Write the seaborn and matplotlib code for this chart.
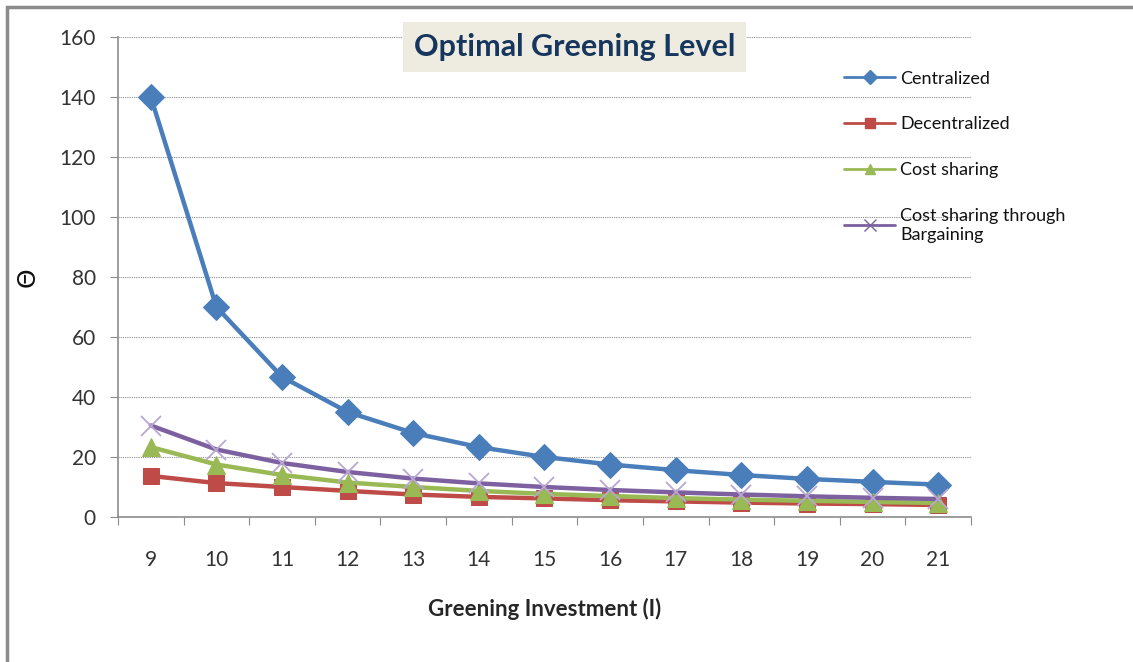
import numpy as np
import pandas as pd
import matplotlib
matplotlib.use("Agg")
import matplotlib.pyplot as plt
from matplotlib.lines import Line2D
from matplotlib.patches import Rectangle
import seaborn as sns

# Data
investment = [9, 10, 11, 12, 13, 14, 15, 16, 17, 18, 19, 20, 21]
centralized = [140, 70, 46.7, 35, 28, 23.3, 20, 17.5, 15.6, 14, 12.7, 11.7, 10.8]
decentralized = [13.7, 11.3, 10, 8.7, 7.5, 6.7, 6.2, 5.6, 5.2, 4.8, 4.5, 4.3, 4.0]
cost_sharing = [23.3, 17.5, 14, 11.5, 10, 8.7, 7.7, 7, 6.3, 5.8, 5.4, 5, 4.7]
bargaining = [30.5, 22.5, 18, 15, 12.8, 11.2, 10, 9, 8.2, 7.5, 6.9, 6.4, 6.0]

series_names = ["Centralized", "Decentralized", "Cost sharing",
                "Cost sharing through\nBargaining"]
colors = ["#4a7ebb", "#be4b48", "#98b954", "#7d60a0"]
markers = ["D", "s", "^", "x"]

sns.set_style("white")
plt.rcParams['font.family'] = ['Lato', 'DejaVu Sans']

fig = plt.figure(figsize=(11.33, 6.62), dpi=100)
ax = fig.add_axes([118 / 1133, 1 - 517 / 662, (971 - 118) / 1133, (517 - 37) / 662])

# outer chart border
fig.patches.append(Rectangle((7 / 1133, -0.1), 1.1, 1 - 7 / 662 + 0.1,
                             transform=fig.transFigure, fill=False,
                             edgecolor="#8c8c8c", linewidth=2.5))

all_values = [centralized, decentralized, cost_sharing, bargaining]
marker_sizes = [13, 12, 13, 14]
for vals, name, c, m, ms in zip(all_values, series_names, colors, markers, marker_sizes):
    df = pd.DataFrame({"I": investment, "theta": vals})
    if m == "x":
        sns.lineplot(data=df, x="I", y="theta", ax=ax, color=c, linewidth=3.2,
                     marker=m, markersize=ms, markeredgecolor="#b9a6d3",
                     markeredgewidth=1.3)
    else:
        sns.lineplot(data=df, x="I", y="theta", ax=ax, color=c, linewidth=3.2,
                     marker=m, markersize=ms, markeredgecolor=c)

ax.set_ylim(0, 160)
ax.set_yticks(np.arange(0, 161, 20))
ax.set_xlim(8.5, 21.5)
ax.set_xticks(np.arange(8.5, 21.6, 1))
ax.set_xticks(investment, minor=True)
ax.set_xticklabels([])
ax.set_xticklabels([str(v) for v in investment], minor=True)
ax.tick_params(axis="x", which="major", length=6, direction="out", color="#8c8c8c")
ax.tick_params(axis="x", which="minor", length=0, pad=24, labelsize=15, labelcolor="#333333")
ax.tick_params(axis="y", length=6, direction="out", color="#8c8c8c", pad=10,
               labelsize=15, labelcolor="#333333")
ax.tick_params(left=True, bottom=True)
ax.grid(axis="y", linestyle=(0, (1, 1)), color="#8c8c8c", linewidth=0.8)
ax.set_axisbelow(True)
for side in ["top", "right"]:
    ax.spines[side].set_visible(False)
for side in ["left", "bottom"]:
    ax.spines[side].set_color("#8c8c8c")
    ax.spines[side].set_linewidth(1.2)

ax.set_xlabel("Greening Investment (I)", fontsize=16, fontweight="bold", labelpad=20)
ax.set_ylabel("")
fig.text(28 / 1133, 1 - 277 / 662, "Θ", rotation=90, ha="center", va="center",
         fontsize=18, family="DejaVu Sans", color="#111111")

ax.text(0.535, 0.979, "Optimal Greening Level", transform=ax.transAxes, ha="center",
        va="center", fontsize=22, fontweight="bold", color="#17365d",
        bbox=dict(boxstyle="square,pad=0.35", facecolor="#eeece1", edgecolor="none"))

handles = [Line2D([0], [0], color=c, marker=m, markersize=7 if m != "x" else 8,
                  linewidth=2, markeredgecolor=c)
           for c, m in zip(colors, markers)]
leg = ax.legend(handles, series_names, loc="upper left", bbox_to_anchor=(0.843, 0.945),
                frameon=False, fontsize=13, handlelength=2.8, labelspacing=1.65,
                handletextpad=0.3, borderaxespad=0)
for t in leg.get_texts():
    t.set_color("#111111")

fig.savefig("out.png", dpi=100)
